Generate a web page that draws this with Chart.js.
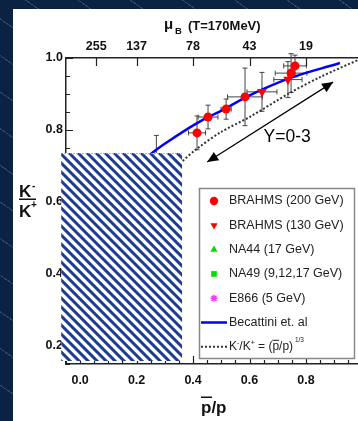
<!DOCTYPE html>
<html>
<head>
<meta charset="utf-8">
<script src="https://cdn.jsdelivr.net/npm/chart.js@4.4.0/dist/chart.umd.min.js"></script>
<style>
  html, body { margin: 0; padding: 0; }
  body {
    width: 358px; height: 421px; overflow: hidden; position: relative;
    background-color: #0c2242;
    background-image: repeating-linear-gradient(35deg, rgba(0,0,0,0) 0 29px, rgba(140,160,190,0.3) 29px 30px);
  }
  #panel { position: absolute; left: 13px; top: 9px; width: 345px; height: 412px; background: #fff; }
  #wrap { position: absolute; left: 0; top: 0; width: 375px; height: 421px; }
</style>
</head>
<body>
<div id="panel"></div>
<div id="wrap"><canvas id="kChart" width="375" height="421"></canvas></div>
<script>
// values (x = pbar/p, y = K-/K+)
const brahms200X    = [0.414, 0.453, 0.517, 0.584, 0.747, 0.761];
const brahms200Y    = [0.792, 0.836, 0.858, 0.892, 0.958, 0.978];
const brahms200XErr = [0.030, 0.035, 0.018, 0.062, 0.056, 0.040];
const brahms200YErr = [0.047, 0.033, 0.028, 0.080, 0.054, 0.030];

const brahms130X    = [0.644, 0.736];
const brahms130Y    = [0.906, 0.940];
const brahms130XErr = [0.053, 0.050];
const brahms130YErr = [0.054, 0.050];

const na44X = [0.12];
const na44Y = [0.60];
const na49X    = [0.055, 0.11, 0.27];
const na49Y    = [0.52, 0.59, 0.70];
const na49YErr = [0.04, 0.04, 0.085];
const e866X = [0.0005];
const e866Y = [0.20];

const becattiniX = [0.20, 0.255, 0.283, 0.414, 0.506, 0.602, 0.743, 0.920];
const becattiniY = [0.700, 0.736, 0.753, 0.819, 0.856, 0.897, 0.944, 0.986];

const powerX = [0.30, 0.36, 0.414, 0.50, 0.60, 0.743, 0.85, 1.00];
const powerY = [0.670, 0.712, 0.748, 0.795, 0.836, 0.903, 0.947, 1.000];

const xTickVals = [0.0, 0.2, 0.4, 0.6, 0.8];
const yTickVals = [0.2, 0.4, 0.6, 0.8, 1.0];
const muTickPos = [0.057, 0.2, 0.4, 0.6, 0.8, 1.0];
const muTickLabels = ['255', '137', '78', '43', '19', '0'];

const FONT = "'Liberation Sans', Arial, Helvetica, sans-serif";

function pts(xs, ys) {
  return xs.map((x, i) => ({ x: x, y: ys[i] }));
}

const datasets = [
  { label: 'BRAHMS (200 GeV)', data: pts(brahms200X, brahms200Y), xErr: brahms200XErr, yErr: brahms200YErr,
    pointStyle: 'circle', pointRadius: 4.5, backgroundColor: '#ff0000', borderColor: '#ff0000', borderWidth: 0, order: 0 },
  { label: 'BRAHMS (130 GeV)', data: pts(brahms130X, brahms130Y), xErr: brahms130XErr, yErr: brahms130YErr,
    pointStyle: 'triangle', pointRotation: 180, pointRadius: 5.5, backgroundColor: '#ff0000', borderColor: '#ff0000', borderWidth: 0, order: 0 },
  { label: 'NA44 (17 GeV)', data: pts(na44X, na44Y),
    pointStyle: 'triangle', pointRadius: 4.5, backgroundColor: '#00dd00', borderColor: '#00dd00', borderWidth: 0, order: 0 },
  { label: 'NA49 (9,12,17 GeV)', data: pts(na49X, na49Y), yErr: na49YErr,
    pointStyle: 'rect', pointRadius: 4, backgroundColor: '#00dd00', borderColor: '#00dd00', borderWidth: 0, order: 0 },
  { label: 'E866 (5 GeV)', data: pts(e866X, e866Y),
    pointStyle: 'star', pointRadius: 3.5, backgroundColor: '#ff33ff', borderColor: '#ff33ff', borderWidth: 1.5, order: 0 },
  { label: 'Becattini et. al', data: pts(becattiniX, becattiniY), showLine: true,
    borderColor: '#0000ff', borderWidth: 2.5, pointRadius: 0, tension: 0.4, order: 2 },
  { label: 'K-/K+ = (pbar/p)^1/3', data: pts(powerX, powerY), showLine: true,
    borderColor: '#333333', borderDash: [2, 2], borderWidth: 2, pointRadius: 0, tension: 0.3, order: 2 }
];

const errorBars = {
  id: 'errorBars',
  beforeDatasetsDraw(chart) {
    const { ctx, scales: { x, y } } = chart;
    ctx.save();
    ctx.strokeStyle = '#444';
    ctx.lineWidth = 1;
    chart.data.datasets.forEach(ds => {
      if (!ds.xErr && !ds.yErr) return;
      ds.data.forEach((p, i) => {
        const cx = x.getPixelForValue(p.x), cy = y.getPixelForValue(p.y);
        const ex = ds.xErr ? ds.xErr[i] : 0, ey = ds.yErr ? ds.yErr[i] : 0;
        ctx.beginPath();
        if (ey) {
          const t = y.getPixelForValue(p.y + ey), b = y.getPixelForValue(p.y - ey);
          ctx.moveTo(cx, t); ctx.lineTo(cx, b);
          ctx.moveTo(cx - 2.5, t); ctx.lineTo(cx + 2.5, t);
          ctx.moveTo(cx - 2.5, b); ctx.lineTo(cx + 2.5, b);
        }
        if (ex) {
          const l = x.getPixelForValue(p.x - ex), r = x.getPixelForValue(p.x + ex);
          ctx.moveTo(l, cy); ctx.lineTo(r, cy);
          ctx.moveTo(l, cy - 2.5); ctx.lineTo(l, cy + 2.5);
          ctx.moveTo(r, cy - 2.5); ctx.lineTo(r, cy + 2.5);
        }
        ctx.stroke();
      });
    });
    ctx.restore();
  }
};

function arrowHead(ctx, x1, y1, x2, y2) {
  // head at (x2, y2)
  const a = Math.atan2(y2 - y1, x2 - x1), len = 11, w = 5;
  ctx.beginPath();
  ctx.moveTo(x2, y2);
  ctx.lineTo(x2 - len * Math.cos(a) + w * Math.sin(a), y2 - len * Math.sin(a) - w * Math.cos(a));
  ctx.lineTo(x2 - len * Math.cos(a) - w * Math.sin(a), y2 - len * Math.sin(a) + w * Math.cos(a));
  ctx.closePath();
  ctx.fill();
}

const decorations = {
  id: 'decorations',
  afterDraw(chart) {
    const { ctx, chartArea: area, scales: { x, y } } = chart;
    ctx.save();

    // inner tick marks
    ctx.strokeStyle = '#222';
    ctx.lineWidth = 1.2;
    ctx.beginPath();
    for (let k = 3; k <= 20; k++) {
      const v = k * 0.05, py = Math.round(y.getPixelForValue(v)) + 0.5;
      const len = k % 4 === 0 ? 7 : 4;
      ctx.moveTo(area.left, py); ctx.lineTo(area.left + len, py);
    }
    for (let k = -1; k <= 20; k++) {
      const v = k * 0.05, pxl = Math.round(x.getPixelForValue(v)) + 0.5;
      const len = k % 4 === 0 ? 8 : 4;
      ctx.moveTo(pxl, area.bottom); ctx.lineTo(pxl, area.bottom - len);
    }
    muTickPos.forEach(v => {
      const pxl = Math.round(x.getPixelForValue(v)) + 0.5;
      ctx.moveTo(pxl, area.top); ctx.lineTo(pxl, area.top + 8);
    });
    ctx.stroke();

    ctx.fillStyle = '#111';
    ctx.textBaseline = 'alphabetic';
    ctx.textAlign = 'left';

    // top title: mu_B (T=170MeV)
    ctx.font = 'bold 15px ' + FONT;
    ctx.fillText('\u03bc', 164, 29);
    ctx.font = 'bold 9.5px ' + FONT;
    ctx.fillText('B', 175, 34);
    ctx.font = 'bold 13px ' + FONT;
    ctx.fillText('(T=170MeV)', 188, 30);

    // y title: K- over K+
    ctx.font = 'bold 17px ' + FONT;
    ctx.fillText('K', 19, 197);
    ctx.fillText('K', 19, 217);
    ctx.font = 'bold 10px ' + FONT;
    ctx.fillText('-', 32, 189);
    ctx.fillText('+', 31, 208);
    ctx.fillRect(19, 198.5, 17, 1.5);

    // x title: pbar/p
    ctx.font = 'bold 17px ' + FONT;
    ctx.fillText('p/p', 201, 413);
    ctx.fillRect(201, 396.5, 11, 1.5);

    // arrow and label
    const ax1 = x.getPixelForValue(0.45), ay1 = y.getPixelForValue(0.711);
    const ax2 = x.getPixelForValue(0.896), ay2 = y.getPixelForValue(0.933);
    ctx.strokeStyle = '#000';
    ctx.fillStyle = '#000';
    ctx.lineWidth = 1.2;
    ctx.beginPath(); ctx.moveTo(ax1, ay1); ctx.lineTo(ax2, ay2); ctx.stroke();
    arrowHead(ctx, ax1, ay1, ax2, ay2);
    arrowHead(ctx, ax2, ay2, ax1, ay1);
    ctx.font = '17.5px ' + FONT;
    ctx.textAlign = 'center';
    ctx.textBaseline = 'middle';
    ctx.fillText('Y=0-3', x.getPixelForValue(0.733), y.getPixelForValue(0.78));

    // hatched overlay box
    const hl = x.getPixelForValue(-0.067), hr = x.getPixelForValue(0.361);
    const ht = y.getPixelForValue(0.736), hb = y.getPixelForValue(0.158);
    const hw = hr - hl, hh = hb - ht;
    ctx.save();
    ctx.beginPath(); ctx.rect(hl, ht, hw, hh);
    ctx.fillStyle = '#fff'; ctx.fill();
    ctx.clip();
    ctx.strokeStyle = '#1d3d92';
    ctx.lineWidth = 3;
    ctx.beginPath();
    for (let k = -hh; k < hw + hh; k += 9) {
      ctx.moveTo(hl + k, ht); ctx.lineTo(hl + k + hh + 10, ht + hh + 10);
    }
    ctx.stroke();
    ctx.restore();
    ctx.strokeStyle = '#999';
    ctx.lineWidth = 1;
    ctx.setLineDash([1.5, 1.5]);
    ctx.beginPath(); ctx.moveTo(hl, ht + 0.5); ctx.lineTo(hr, ht + 0.5); ctx.stroke();
    ctx.setLineDash([]);

    // legend
    const lx = 199.5, ly = 188.5, lw = 155, lh = 170;
    ctx.fillStyle = '#fff';
    ctx.fillRect(lx, ly, lw, lh);
    ctx.strokeStyle = '#888';
    ctx.lineWidth = 1.5;
    ctx.strokeRect(lx, ly, lw, lh);
    ctx.textAlign = 'left';
    ctx.textBaseline = 'middle';
    chart.data.datasets.forEach((ds, i) => {
      const ey = 201 + i * 24.3;
      if (ds.showLine) {
        ctx.strokeStyle = ds.borderColor;
        ctx.lineWidth = ds.borderWidth;
        ctx.setLineDash(ds.borderDash || []);
        ctx.beginPath(); ctx.moveTo(201, ey); ctx.lineTo(227, ey); ctx.stroke();
        ctx.setLineDash([]);
      } else {
        ctx.fillStyle = ds.backgroundColor;
        ctx.strokeStyle = ds.borderColor;
        ctx.lineWidth = ds.borderWidth;
        Chart.helpers.drawPoint(ctx, {
          pointStyle: ds.pointStyle, radius: Math.min(ds.pointRadius, 4.2),
          rotation: ds.pointRotation || 0, borderWidth: ds.borderWidth
        }, 214, ey);
      }
      ctx.fillStyle = '#222';
      if (i < datasets.length - 1) {
        ctx.font = '12.5px ' + FONT;
        ctx.fillText(ds.label, 229, ey);
      } else {
        // K-/K+ = (pbar/p)^1/3
        let cx = 229;
        const put = (t, size, dy) => {
          ctx.font = size + 'px ' + FONT;
          ctx.fillText(t, cx, ey + dy);
          const w = ctx.measureText(t).width;
          cx += w;
          return w;
        };
        put('K', 12, 0); put('-', 7, -4); put('/K', 12, 0); put('+', 7, -4);
        put(' = (', 12, 0);
        const ox = cx, ow = put('p', 12, 0);
        ctx.fillRect(ox, ey - 7, ow, 1);
        put('/p)', 12, 0);
        put(' 1/3', 6.5, -7);
      }
    });

    ctx.restore();
  }
};

const tickFont = { family: FONT, size: 12.5, weight: 'bold' };

new Chart(document.getElementById('kChart').getContext('2d'), {
  type: 'scatter',
  data: { datasets: datasets },
  options: {
    responsive: false,
    animation: false,
    layout: { padding: { left: 0, right: 12.5, top: 0, bottom: 0 } },
    plugins: { legend: { display: false }, tooltip: { enabled: false } },
    scales: {
      x: {
        type: 'linear', position: 'bottom', min: -0.05, max: 1.0,
        grid: { display: false, drawTicks: false },
        border: { display: true, color: '#222', width: 1.5 },
        afterBuildTicks: s => { s.ticks = xTickVals.map(v => ({ value: v })); },
        afterFit: s => { s.height = 57; },
        ticks: { autoSkip: false, maxRotation: 0, padding: 9, color: '#111', font: tickFont,
                 callback: v => Number(v).toFixed(1) }
      },
      x2: {
        type: 'linear', position: 'top', min: -0.05, max: 1.0,
        grid: { display: false, drawTicks: false },
        border: { display: true, color: '#222', width: 1.5 },
        afterBuildTicks: s => { s.ticks = muTickPos.map(v => ({ value: v })); },
        afterFit: s => { s.height = 58; },
        ticks: { autoSkip: false, maxRotation: 0, padding: 4, color: '#111', font: tickFont,
                 callback: (v, i) => muTickLabels[i] }
      },
      y: {
        type: 'linear', position: 'left', min: 0.15, max: 1.0,
        grid: { display: false, drawTicks: false },
        border: { display: true, color: '#222', width: 1.5 },
        afterBuildTicks: s => { s.ticks = yTickVals.map(v => ({ value: v })); },
        afterFit: s => { s.width = 66; },
        ticks: { autoSkip: false, padding: 3, color: '#111', font: tickFont,
                 callback: v => Number(v).toFixed(1) }
      }
    }
  },
  plugins: [errorBars, decorations]
});
</script>
</body>
</html>
